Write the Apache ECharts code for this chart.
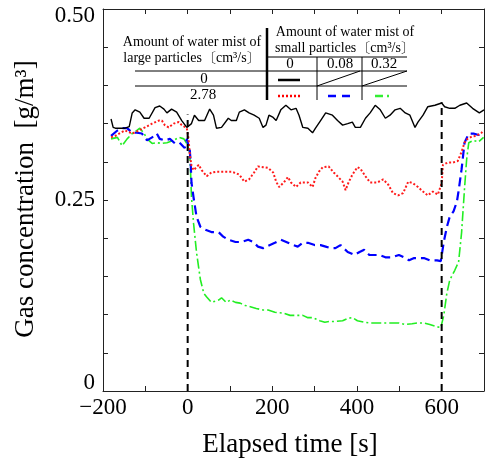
<!DOCTYPE html>
<html><head><meta charset="utf-8">
<script src="https://cdn.jsdelivr.net/npm/echarts@6/dist/echarts.min.js"></script>
<style>html,body{margin:0;padding:0;background:#fff}#c{width:487px;height:463px}</style>
</head><body><div id="c"></div>
<script>
// ---- data ----
const xLabelValues = [-200, 0, 200, 400, 600];
const yLabelValues = [0, 0.25, 0.5];
const yLabelTexts = ['0', '0.25', '0.50'];

const blackT = [-181,-176,-171,-159,-148,-138,-131,-124,-113,-103,-91,-77,-66,-56,-49,-38,-26,-14,-2,9,16,26,40,52,61,68,80,96,103,115,122,134,145,157,169,178,185,192,202,209,220,232,244,256,263,272,284,295,302,314,326,342,354,366,378,389,396,408,420,431,443,455,467,478,490,502,514,525,537,544,556,567,584,600,607,619,631,643,659,673,689,700];
const blackV = [.356,.345,.344,.344,.344,.346,.364,.368,.365,.357,.357,.371,.373,.369,.364,.369,.365,.354,.345,.350,.361,.354,.354,.369,.361,.344,.345,.357,.354,.354,.365,.368,.364,.361,.357,.345,.348,.361,.358,.354,.368,.374,.368,.370,.361,.345,.344,.338,.344,.354,.364,.361,.354,.348,.350,.352,.345,.345,.357,.364,.374,.368,.357,.361,.368,.370,.364,.361,.345,.352,.361,.372,.374,.377,.372,.370,.370,.374,.377,.370,.364,.368];

const redT = [-181,-171,-162,-148,-131,-115,-101,-84,-68,-61,-54,-45,-33,-21,-14,-2,2,5,9,14,21,26,33,45,56,68,80,96,103,115,122,134,145,157,166,178,190,202,209,216,227,237,244,256,267,284,295,302,310,319,333,345,354,366,373,380,389,401,408,420,431,448,462,474,485,497,509,521,532,544,556,567,579,591,600,603,614,626,638,647,654,661,671,682,694,700];
const redV = [.332,.334,.337,.341,.337,.341,.345,.350,.354,.354,.348,.345,.350,.352,.348,.344,.330,.310,.295,.289,.293,.296,.289,.281,.286,.287,.287,.287,.287,.285,.283,.274,.277,.286,.294,.293,.292,.286,.274,.267,.273,.280,.273,.267,.273,.273,.267,.279,.287,.293,.294,.286,.281,.274,.263,.273,.283,.293,.291,.281,.273,.273,.277,.270,.259,.256,.259,.274,.272,.267,.261,.256,.261,.257,.272,.296,.299,.299,.301,.313,.325,.330,.333,.334,.338,.341];

const blueT = [-181,-166,-155,-143,-131,-120,-108,-96,-84,-73,-66,-54,-42,-30,-19,-7,-2,2,5,7,9,14,21,30,42,56,73,84,96,113,127,143,155,166,178,190,206,220,237,249,260,272,284,300,314,326,338,349,361,378,394,406,417,429,441,453,467,483,499,511,523,535,546,558,572,589,598,605,612,619,628,636,640,647,654,664,675,687,699];
const blueV = [.334,.341,.344,.344,.338,.338,.337,.328,.332,.337,.330,.328,.330,.324,.325,.318,.330,.328,.315,.300,.273,.253,.228,.215,.211,.208,.208,.202,.198,.195,.195,.198,.195,.189,.187,.190,.194,.198,.194,.191,.189,.194,.194,.191,.191,.189,.187,.187,.191,.182,.178,.182,.185,.178,.178,.178,.175,.175,.178,.175,.171,.174,.174,.174,.171,.171,.170,.195,.214,.228,.235,.248,.262,.290,.325,.337,.337,.335,.338];

const greenT = [-181,-166,-155,-143,-131,-120,-113,-103,-96,-84,-73,-61,-49,-33,-21,-9,-2,2,5,7,9,14,21,30,38,45,56,73,80,91,101,113,124,136,150,162,178,190,206,225,242,256,272,284,295,312,324,335,349,366,378,389,401,417,431,448,464,483,499,514,530,542,558,572,589,598,605,612,619,631,640,647,654,659,664,675,687,699];
const greenV = [.330,.332,.321,.330,.337,.341,.344,.337,.330,.324,.325,.324,.325,.328,.332,.330,.324,.325,.311,.285,.254,.219,.181,.146,.128,.123,.116,.119,.122,.116,.119,.116,.115,.112,.110,.108,.106,.106,.103,.102,.099,.099,.099,.096,.096,.092,.090,.091,.091,.092,.095,.096,.092,.090,.089,.089,.089,.089,.089,.087,.088,.089,.089,.087,.084,.083,.099,.127,.145,.158,.169,.207,.265,.303,.325,.328,.326,.332];

const eventT = [0, 600];
const eventTop = [0.362, 0.378];

// ---- chart ----
const F = '"Liberation Serif","Times New Roman","Noto Serif CJK JP","Noto Sans CJK JP",serif';
const zip = (t, v) => t.map((x, i) => [x, v[i]]);
const chart = echarts.init(document.getElementById('c'), null, {renderer: 'canvas'});

const axisLineStyle = {color: '#222', width: 1};
const tick = {show: true, inside: true, length: 5, lineStyle: {color: '#222', width: 1}};

function yFmt(v) {
  const k = Math.round(v * 100);
  for (let i = 0; i < yLabelValues.length; i++) {
    if (Math.round(yLabelValues[i] * 100) === k) {
      if (i === yLabelValues.length - 1) return '{top|' + yLabelTexts[i] + '}';
      if (i === 0) return '{bot|' + yLabelTexts[i] + '}';
      return yLabelTexts[i];
    }
  }
  return '';
}
function xFmt(v) {
  if (xLabelValues.indexOf(v) < 0) return '';
  return v < 0 ? '\u2212' + Math.abs(v) : String(v);
}

function txt(x, y, s, size) {
  return {type: 'text', x: x, y: y, silent: true,
    style: {text: s, fontSize: size, fontFamily: F, fill: '#000', align: 'center', verticalAlign: 'middle'}};
}
function ln(x1, y1, x2, y2, w, extra) {
  return {type: 'line', silent: true, shape: {x1, y1, x2, y2},
    style: Object.assign({stroke: '#000', lineWidth: w || 1}, extra || {})};
}

const graphics = [
  txt(290, 445, 'Elapsed time [s]', 27),
  Object.assign(txt(26, 199, 'Gas concentration  [g/m\u00b3]', 27), {rotation: Math.PI / 2}),
  // legend table
  txt(192, 42, 'Amount of water mist of', 14),
  txt(192, 58, 'large particles\u3014cm\u00b3/s\u3015', 14),
  txt(345, 32, 'Amount of water mist of', 14),
  txt(345, 48, 'small particles\u3014cm\u00b3/s\u3015', 14),
  txt(290, 64, '0', 15),
  txt(340, 64, '0.08', 15),
  txt(384, 64, '0.32', 15),
  txt(204, 79, '0', 15),
  txt(203, 95, '2.78', 15),
  ln(267, 28, 267, 100, 2.5),
  ln(267, 57, 407, 57, 1),
  ln(135, 71, 407, 71, 1),
  ln(135, 86, 407, 86, 1),
  ln(317, 57, 317, 100, 1),
  ln(362, 57, 362, 100, 1),
  ln(317, 86, 360, 71, 1),
  ln(362, 86, 407, 71, 1),
  ln(278, 80, 300, 80, 2.5),
  ln(278, 96, 300, 96, 2.5, {stroke: '#ff0000', lineDash: [2, 2]}),
  ln(328, 96, 350, 96, 2.5, {stroke: '#0000ff', lineDash: [8, 6]}),
  ln(375, 96, 393, 96, 2.5, {stroke: '#33ee33', lineDash: [8, 4, 2, 4]})
];

const lineSeries = (name, t, v, color, width, dash, z) => ({
  name, type: 'line', data: zip(t, v), showSymbol: false, symbol: 'none', silent: true,
  animation: false, z: z,
  lineStyle: {color, width, type: dash}
});

const series = [
  lineSeries('g', greenT, greenV, '#22ee22', 1.6, [10, 3, 2, 3], 2),
  lineSeries('b', blueT, blueV, '#0000ff', 2.2, [9, 5], 3),
  lineSeries('r', redT, redV, '#ff1a1a', 2, [2, 2], 4),
  lineSeries('k', blackT, blackV, '#000000', 1.4, 'solid', 5)
];
eventT.forEach((t, i) => {
  series.push({type: 'line', data: [[t, 0], [t, eventTop[i]]], showSymbol: false, symbol: 'none',
    silent: true, animation: false, z: 6, lineStyle: {color: '#000', width: 2, type: [7, 5]}});
});

chart.setOption({
  animation: false,
  backgroundColor: '#fff',
  grid: {left: 103, right: 0, top: 9, bottom: 72},
  xAxis: [
    {type: 'value', min: -200, max: 700, interval: 100, position: 'bottom',
      axisLine: {show: true, onZero: false, lineStyle: axisLineStyle}, axisTick: tick, splitLine: {show: false},
      axisLabel: {formatter: xFmt, interval: 0, fontSize: 23, fontFamily: F, color: '#000', margin: 5, showMaxLabel: true}},
    {type: 'value', min: -200, max: 700, interval: 100, position: 'top',
      axisLine: {show: true, onZero: false, lineStyle: axisLineStyle}, axisTick: tick, splitLine: {show: false},
      axisLabel: {show: false}}
  ],
  yAxis: [
    {type: 'value', min: 0, max: 0.5, interval: 0.05, position: 'left',
      axisLine: {show: true, onZero: false, lineStyle: axisLineStyle}, axisTick: tick, splitLine: {show: false},
      axisLabel: {formatter: yFmt, interval: 0, fontSize: 23, fontFamily: F, color: '#000', margin: 8,
        rich: {top: {fontSize: 23, fontFamily: F, color: '#000', padding: [13, 0, 0, 0]},
               bot: {fontSize: 23, fontFamily: F, color: '#000', padding: [0, 0, 16, 0]}}}},
    {type: 'value', min: 0, max: 0.5, interval: 0.05, position: 'right',
      axisLine: {show: true, onZero: false, lineStyle: axisLineStyle}, axisTick: tick, splitLine: {show: false},
      axisLabel: {show: false}}
  ],
  series: series,
  graphic: graphics
});
</script>
</body></html>
